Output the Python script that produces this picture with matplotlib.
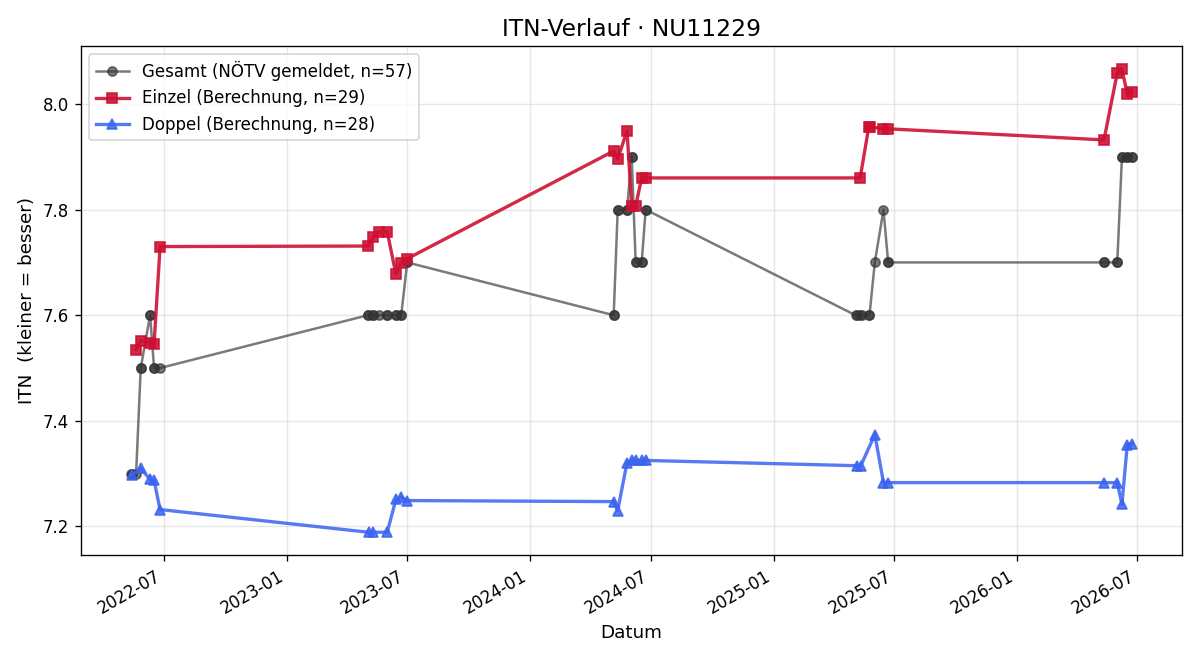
import pandas as pd
import matplotlib
matplotlib.use("Agg")
import matplotlib.pyplot as plt
import matplotlib.dates as mdates

# Gesamt (NÖTV gemeldet) - ein Wert pro Spiel
gesamt_datum = [
    "2022-05-12", "2022-05-14", "2022-05-20", "2022-05-27", "2022-05-27",
    "2022-06-10", "2022-06-10", "2022-06-16", "2022-06-16", "2022-06-25",
    "2023-05-03", "2023-05-03", "2023-05-11", "2023-05-11", "2023-05-20",
    "2023-06-01", "2023-06-01", "2023-06-14", "2023-06-14", "2023-06-22",
    "2023-06-22", "2023-07-01", "2023-07-01",
    "2024-05-06", "2024-05-06", "2024-05-12", "2024-05-12", "2024-05-26",
    "2024-05-26", "2024-06-02", "2024-06-02", "2024-06-08", "2024-06-08",
    "2024-06-17", "2024-06-17", "2024-06-23", "2024-06-23",
    "2025-05-04", "2025-05-06", "2025-05-11", "2025-05-14", "2025-05-24",
    "2025-05-25", "2025-06-02", "2025-06-15", "2025-06-22", "2025-06-22",
    "2026-05-12", "2026-05-12", "2026-06-01", "2026-06-01", "2026-06-08",
    "2026-06-08", "2026-06-16", "2026-06-16", "2026-06-23", "2026-06-23",
]
gesamt_itn = [
    7.3, 7.3, 7.3, 7.5, 7.5, 7.6, 7.6, 7.5, 7.5, 7.5,
    7.6, 7.6, 7.6, 7.6, 7.6, 7.6, 7.6, 7.6, 7.6, 7.6, 7.6, 7.7, 7.7,
    7.6, 7.6, 7.8, 7.8, 7.8, 7.8, 7.9, 7.9, 7.7, 7.7, 7.7, 7.7, 7.8, 7.8,
    7.6, 7.6, 7.6, 7.6, 7.6, 7.6, 7.7, 7.8, 7.7, 7.7,
    7.7, 7.7, 7.7, 7.7, 7.9, 7.9, 7.9, 7.9, 7.9, 7.9,
]

# Einzel (Berechnung)
einzel_datum = [
    "2022-05-20", "2022-05-27", "2022-06-10", "2022-06-16", "2022-06-25",
    "2023-05-03", "2023-05-11", "2023-05-20", "2023-06-01", "2023-06-14",
    "2023-06-22", "2023-07-01",
    "2024-05-06", "2024-05-12", "2024-05-26", "2024-06-02", "2024-06-08",
    "2024-06-17", "2024-06-23",
    "2025-05-11", "2025-05-24", "2025-05-26", "2025-06-14", "2025-06-22",
    "2026-05-12", "2026-06-01", "2026-06-08", "2026-06-16", "2026-06-23",
]
einzel_itn = [
    7.535, 7.552, 7.548, 7.546, 7.730,
    7.731, 7.748, 7.758, 7.758, 7.678, 7.699, 7.707,
    7.911, 7.896, 7.949, 7.807, 7.807, 7.860, 7.860,
    7.860, 7.957, 7.957, 7.953, 7.953,
    7.932, 8.059, 8.066, 8.019, 8.023,
]

# Doppel (Berechnung)
doppel_datum = [
    "2022-05-14", "2022-05-27", "2022-06-10", "2022-06-16", "2022-06-25",
    "2023-05-04", "2023-05-10", "2023-06-01", "2023-06-14", "2023-06-22",
    "2023-06-30",
    "2024-05-06", "2024-05-12", "2024-05-26", "2024-06-02", "2024-06-08",
    "2024-06-17", "2024-06-23",
    "2025-05-06", "2025-05-12", "2025-06-02", "2025-06-15", "2025-06-22",
    "2026-05-12", "2026-06-01", "2026-06-08", "2026-06-16", "2026-06-23",
]
doppel_itn = [
    7.298, 7.310, 7.289, 7.287, 7.232,
    7.189, 7.189, 7.189, 7.251, 7.255, 7.249,
    7.247, 7.230, 7.321, 7.325, 7.325, 7.325, 7.325,
    7.315, 7.315, 7.374, 7.283, 7.283,
    7.283, 7.283, 7.242, 7.355, 7.357,
]


def grafico_itn():
    g_x = pd.to_datetime(gesamt_datum)
    e_x = pd.to_datetime(einzel_datum)
    d_x = pd.to_datetime(doppel_datum)

    fig, ax = plt.subplots(figsize=(10, 5.5), dpi=120)

    ax.plot(g_x, gesamt_itn, marker='o', color='#333333', alpha=0.65,
            linewidth=1.5, markersize=5.5,
            label=f'Gesamt (NÖTV gemeldet, n={len(gesamt_itn)})')
    ax.plot(e_x, einzel_itn, marker='s', color='#cc1133', alpha=0.9,
            linewidth=2, markersize=6.5,
            label=f'Einzel (Berechnung, n={len(einzel_itn)})')
    ax.plot(d_x, doppel_itn, marker='^', color='#3a63f0', alpha=0.85,
            linewidth=2, markersize=6.5,
            label=f'Doppel (Berechnung, n={len(doppel_itn)})')

    ax.set_title('ITN-Verlauf · NU11229', fontsize=14)
    ax.set_xlabel('Datum', fontsize=11)
    ax.set_ylabel('ITN  (kleiner = besser)', fontsize=11)
    ax.grid(True, alpha=0.3)
    ax.legend(loc='upper left', fontsize=10)

    ax.xaxis.set_major_locator(mdates.MonthLocator(bymonth=[1, 7]))
    ax.xaxis.set_major_formatter(mdates.DateFormatter('%Y-%m'))
    fig.autofmt_xdate()

    fig.tight_layout()
    fig.savefig('out.png', dpi=120)


if __name__ == "__main__":
    grafico_itn()
